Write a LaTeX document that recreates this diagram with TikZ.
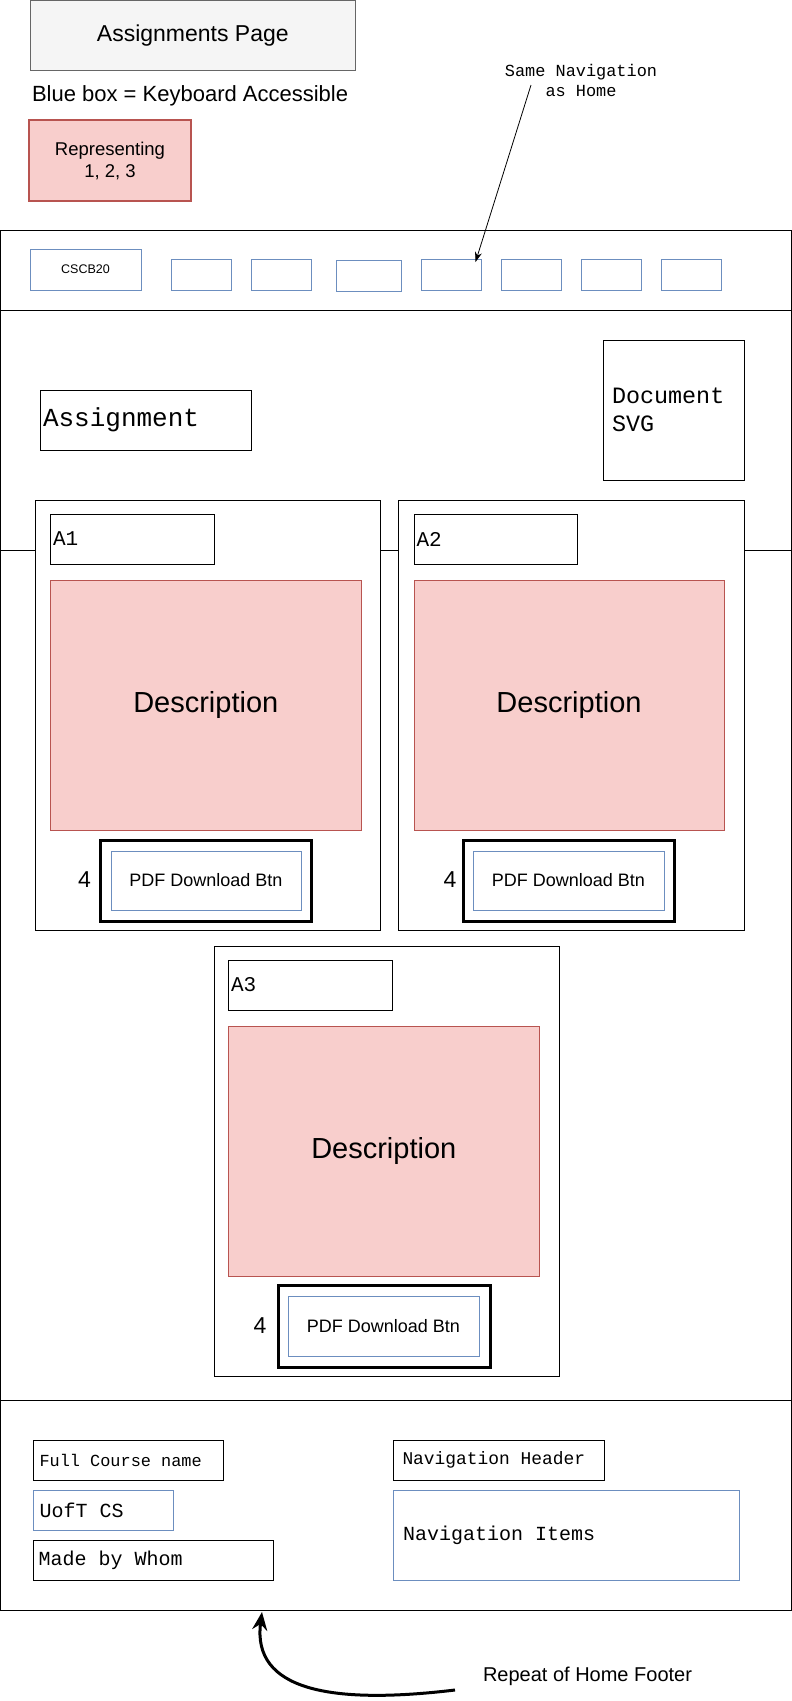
\documentclass[tikz,border=0pt]{standalone}
\usepackage{fontspec}
\setmainfont{Liberation Sans}
\newfontfamily\monof{Liberation Mono}
\usetikzlibrary{arrows.meta}
\definecolor{bluestroke}{HTML}{6C8EBF}
\definecolor{redfill}{HTML}{F8CECC}
\definecolor{redstroke}{HTML}{B85450}
\definecolor{grayfill}{HTML}{F5F5F5}
\definecolor{graystroke}{HTML}{666666}
\begin{document}
\begin{tikzpicture}[x=1pt,y=-1pt,
  every node/.style={inner sep=0pt, outer sep=0pt},
  box/.style={draw=black, line width=1pt, fill=white, anchor=north west},
  bluebox/.style={box, draw=bluestroke},
  redbox/.style={box, draw=redstroke, fill=redfill},
  thickbox/.style={box, line width=3pt},
  monolabel/.style={anchor=west, align=left},
  navbtn/.style={bluebox, minimum width=60, minimum height=31},
  desctext/.style={font=\fontsize{29}{34}\selectfont},
  pdftext/.style={font=\fontsize{18}{22}\selectfont},
  numtext/.style={font=\fontsize{23}{27}\selectfont}
]
\useasboundingbox (0,0) rectangle (792,1701);

% Title and legend
\node[box, draw=graystroke, fill=grayfill, minimum width=325.7, minimum height=69.5,
      font=\fontsize{23}{28}\selectfont] (title) at (30,0.5) {Assignments Page};
\node[anchor=west, font=\fontsize{22}{26}\selectfont] (legend) at (32,96) {Blue box = Keyboard Accessible};
\node[redbox, line width=2.5pt, minimum width=162, minimum height=81, align=center,
      font=\fontsize{18.5}{22}\selectfont] (rep) at (29,120) {Representing\\1, 2, 3};
\node[align=center, font=\monof\fontsize{16.9}{20}\selectfont] (samenav) at (581,80) {Same Navigation\\as Home};

% Page frame
\draw[line width=1pt] (0.5,230) rectangle (791,1610);
\draw[line width=1pt] (0.5,310) -- (791,310);
\draw[line width=1pt] (0.5,550) -- (791,550);
\draw[line width=1pt] (0.5,1400) -- (791,1400);

% Navigation
\node[bluebox, minimum width=111, minimum height=41, font=\fontsize{12.5}{15}\selectfont] (nav0) at (30,249) {CSCB20};
\node[navbtn] (nav1) at (171,259) {};
\node[navbtn] (nav2) at (251,259) {};
\node[navbtn, minimum width=65] (nav3) at (336,260) {};
\node[navbtn] (nav4) at (421,259) {};
\node[navbtn] (nav5) at (501,259) {};
\node[navbtn] (nav6) at (581,259) {};
\node[navbtn] (nav7) at (661,259) {};
\coordinate (arrowstart) at (531,85);
\coordinate (navtip) at (475.5,262);
\draw[line width=0.8pt, -{Stealth[length=10pt,width=7pt]}] (arrowstart) -- (navtip);

% Heading area
\node[box, minimum width=210.5, minimum height=60] (assign) at (40.5,390) {};
\node[monolabel, font=\monof\fontsize{26}{30}\selectfont] (assigntxt) at ([xshift=2.5]assign.west) {Assignment};
\node[box, minimum width=141, minimum height=140] (docsvg) at (603,340) {};
\node[monolabel, font=\monof\fontsize{23.4}{28}\selectfont] (docsvgtxt) at ([xshift=9]docsvg.west) {Document\\SVG};

% Card A1
\node[box, minimum width=344.6, minimum height=430] (cardA) at (35.4,500) {};
\node[box, minimum width=163.4, minimum height=50] (labA) at (50.6,514) {};
\node[monolabel, font=\monof\fontsize{21}{25}\selectfont] (labAtxt) at ([xshift=2.5]labA.west) {A1};
\node[redbox, minimum width=310.4, minimum height=250, desctext] (descA) at (50.6,580) {Description};
\node[thickbox, minimum width=211, minimum height=81] (pdfoA) at (100,840) {};
\node[bluebox, minimum width=190, minimum height=59, pdftext] (pdfA) at (111,851) {PDF Download Btn};
\node[numtext] (numA) at (84.5,880) {4};

% Card A2
\node[box, minimum width=345.4, minimum height=430] (cardB) at (398.6,500) {};
\node[box, minimum width=163, minimum height=50] (labB) at (414,514) {};
\node[monolabel, font=\monof\fontsize{21}{25}\selectfont] (labBtxt) at ([xshift=2.5]labB.west) {A2};
\node[redbox, minimum width=310, minimum height=250, desctext] (descB) at (414,580) {Description};
\node[thickbox, minimum width=211, minimum height=81] (pdfoB) at (463,840) {};
\node[bluebox, minimum width=191, minimum height=59, pdftext] (pdfB) at (473,851) {PDF Download Btn};
\node[numtext] (numB) at (450,880) {4};

% Card A3
\node[box, minimum width=345, minimum height=430] (cardC) at (214,946) {};
\node[box, minimum width=163.4, minimum height=50] (labC) at (228.6,960) {};
\node[monolabel, font=\monof\fontsize{21}{25}\selectfont] (labCtxt) at ([xshift=2.5]labC.west) {A3};
\node[redbox, minimum width=310.4, minimum height=250, desctext] (descC) at (228.6,1026) {Description};
\node[thickbox, minimum width=212, minimum height=82] (pdfoC) at (278,1285) {};
\node[bluebox, minimum width=191, minimum height=60, pdftext] (pdfC) at (288,1296) {PDF Download Btn};
\node[numtext] (numC) at (260,1326) {4};

% Footer
\node[box, minimum width=190, minimum height=40] (fullc) at (33,1440) {};
\node[monolabel, font=\monof\fontsize{16.9}{20}\selectfont] (fullctxt) at ([xshift=6.5]fullc.west) {Full Course name};
\node[bluebox, minimum width=140, minimum height=40] (uoft) at (33,1490) {};
\node[monolabel, font=\monof\fontsize{20}{24}\selectfont] (uofttxt) at ([xshift=6.5]uoft.west) {UofT CS};
\node[box, minimum width=240, minimum height=40] (made) at (33,1540) {};
\node[monolabel, font=\monof\fontsize{20}{24}\selectfont] (madetxt) at ([xshift=5.5]made.west) {Made by Whom};
\node[box, minimum width=210.5, minimum height=40] (navh) at (393.5,1440) {};
\node[monolabel, font=\monof\fontsize{17.9}{21}\selectfont] (navhtxt) at ([xshift=9]navh.west) {Navigation Header};
\node[bluebox, minimum width=345.5, minimum height=90] (navi) at (393.5,1490) {};
\node[monolabel, font=\monof\fontsize{20}{24}\selectfont] (navitxt) at ([xshift=9.5]navi.west) {Navigation Items};

% Footer note
\node[anchor=west, font=\fontsize{20}{24}\selectfont] (repeat) at (483,1676) {Repeat of Home Footer};
\coordinate (curvestart) at (455,1690);
\coordinate (footertip) at (262,1612);
\draw[line width=3pt, -{Stealth[length=18pt,width=15pt]}] (curvestart) .. controls (330,1705) and (252,1690) .. (footertip);
\end{tikzpicture}
\end{document}
